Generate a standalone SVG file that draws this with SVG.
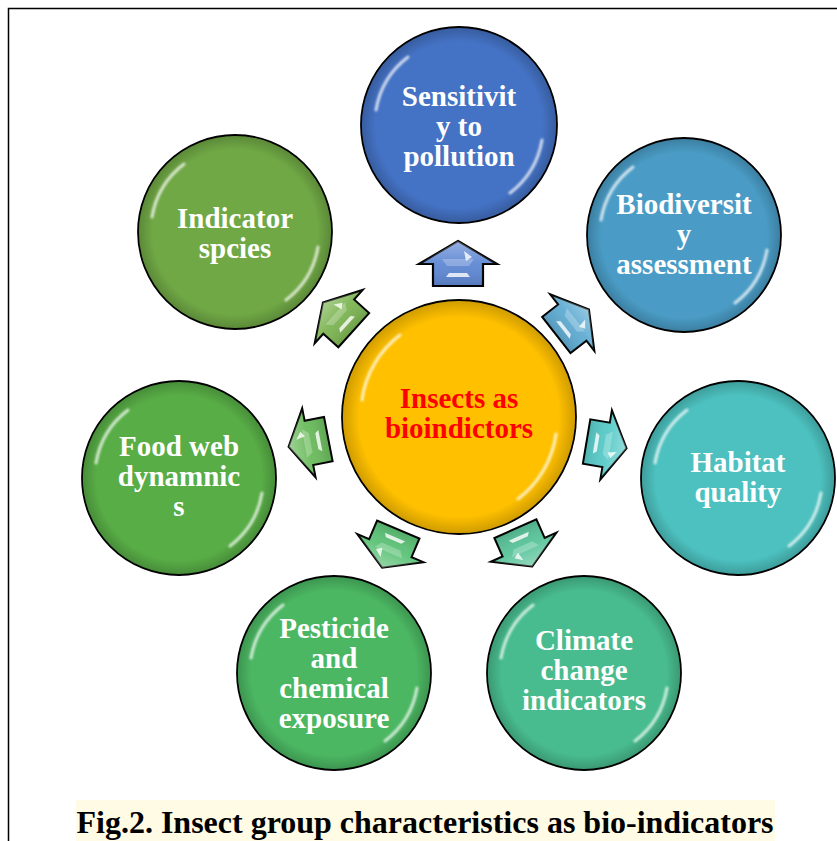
<svg xmlns="http://www.w3.org/2000/svg" width="837" height="841" viewBox="0 0 837 841">
<style>
.node{stroke:#000;stroke-width:1.8}
.lbl{font-family:"Liberation Serif","Times New Roman",serif;font-weight:bold;font-size:29px;fill:#fff;text-anchor:middle}
.ctr{fill:#ff0000}
.arw{stroke:#000;stroke-width:2.2;stroke-linejoin:miter}
.hl{fill:none;stroke:#fff;stroke-width:3;stroke-linecap:round;opacity:.75;filter:url(#blur)}
.glint{fill:#fff;opacity:.8}
.bevel{fill:#fff;opacity:.25}
</style>
<defs>
<filter id="blur" x="-20%" y="-20%" width="140%" height="140%"><feGaussianBlur stdDeviation="1.2"/></filter>
<radialGradient id="rim" cx="50%" cy="50%" r="50%">
<stop offset="0.86" stop-color="#000" stop-opacity="0"/>
<stop offset="1" stop-color="#000" stop-opacity="0.18"/>
</radialGradient>
<linearGradient id="ag" x1="0" y1="0" x2="0" y2="1">
<stop offset="0" stop-color="#fff" stop-opacity="0.35"/>
<stop offset="0.5" stop-color="#fff" stop-opacity="0.05"/>
<stop offset="1" stop-color="#000" stop-opacity="0.12"/>
</linearGradient>
<path id="arrow" d="M0,-22 L39,1 L25,1 L25,23 L-25,23 L-25,1 L-39,1 Z"/>
<g id="arrowFx">
<use href="#arrow" fill="url(#ag)"/>
<path class="bevel" d="M-16,-4 L16,-4 L11,3 L-11,3 Z"/>
<path class="glint" d="M6,-12 L14,-6 L8,-2 Z"/>
<path class="glint" d="M-12,14 L12,14 L9,10 L-9,10 Z"/>
</g>
</defs>
<rect width="837" height="841" fill="#fff"/>
<path d="M8.5,841 V8.5 H837" fill="none" stroke="#000" stroke-width="1.5"/>

<g id="connectors">
<g transform="translate(458,263)"><use href="#arrow" class="arw" fill="#5f88d4"/><use href="#arrowFx"/></g>
<g transform="translate(573,322) rotate(52) scale(0.92)"><use href="#arrow" class="arw" fill="#5fabd2"/><use href="#arrowFx"/></g>
<g transform="translate(607,445) rotate(99.5) scale(0.9)"><use href="#arrow" class="arw" fill="#58cbc8"/><use href="#arrowFx"/></g>
<g transform="translate(524,548) rotate(156) scale(0.92)"><use href="#arrow" class="arw" fill="#59c49a"/><use href="#arrowFx"/></g>
<g transform="translate(390,549) rotate(203) scale(0.92)"><use href="#arrow" class="arw" fill="#5cc276"/><use href="#arrowFx"/></g>
<g transform="translate(308,443) rotate(259) scale(0.9)"><use href="#arrow" class="arw" fill="#6abb5c"/><use href="#arrowFx"/></g>
<g transform="translate(338,316) rotate(-48) scale(0.92)"><use href="#arrow" class="arw" fill="#7db553"/><use href="#arrowFx"/></g>
</g>

<g id="center">
<circle cx="459" cy="417" r="117" class="node" fill="#ffc000"/>
<circle cx="459" cy="417" r="116" fill="url(#rim)"/>
<path class="hl" d="M362,400 A98,98 0 0 1 400,335"/>
<path class="hl" d="M556,434 A98,98 0 0 1 518,499"/>
<text class="lbl ctr" x="459" y="408">Insects as</text>
<text class="lbl ctr" x="459" y="438">bioindictors</text>
</g>

<g id="n-sensitivity">
<circle cx="459" cy="125" r="98" class="node" fill="#4472c4"/>
<circle cx="459" cy="125" r="97" fill="url(#rim)"/>
<path class="hl" d="M376,110 A84,84 0 0 1 408,57"/>
<path class="hl" d="M542,140 A84,84 0 0 1 510,193"/>
<text class="lbl" x="459" y="106">Sensitivit</text>
<text class="lbl" x="459" y="136">y to</text>
<text class="lbl" x="459" y="166">pollution</text>
</g>

<g id="n-biodiversity">
<circle cx="684" cy="235" r="97" class="node" fill="#4a9cc6"/>
<circle cx="684" cy="235" r="96" fill="url(#rim)"/>
<path class="hl" d="M601,220 A84,84 0 0 1 633,167"/>
<path class="hl" d="M767,250 A84,84 0 0 1 735,303"/>
<text class="lbl" x="684" y="214">Biodiversit</text>
<text class="lbl" x="684" y="244">y</text>
<text class="lbl" x="684" y="274">assessment</text>
</g>

<g id="n-habitat">
<circle cx="738" cy="478" r="97" class="node" fill="#4cc1bf"/>
<circle cx="738" cy="478" r="96" fill="url(#rim)"/>
<path class="hl" d="M655,463 A84,84 0 0 1 687,410"/>
<path class="hl" d="M821,493 A84,84 0 0 1 789,546"/>
<text class="lbl" x="738" y="472">Habitat</text>
<text class="lbl" x="738" y="502">quality</text>
</g>

<g id="n-climate">
<circle cx="584" cy="673" r="97" class="node" fill="#48bc8e"/>
<circle cx="584" cy="673" r="96" fill="url(#rim)"/>
<path class="hl" d="M501,658 A84,84 0 0 1 533,605"/>
<path class="hl" d="M667,688 A84,84 0 0 1 635,741"/>
<text class="lbl" x="584" y="650">Climate</text>
<text class="lbl" x="584" y="680">change</text>
<text class="lbl" x="584" y="710">indicators</text>
</g>

<g id="n-pesticide">
<circle cx="334" cy="673" r="97" class="node" fill="#4bb762"/>
<circle cx="334" cy="673" r="96" fill="url(#rim)"/>
<path class="hl" d="M251,658 A84,84 0 0 1 283,605"/>
<path class="hl" d="M417,688 A84,84 0 0 1 385,741"/>
<text class="lbl" x="334" y="638">Pesticide</text>
<text class="lbl" x="334" y="668">and</text>
<text class="lbl" x="334" y="698">chemical</text>
<text class="lbl" x="334" y="728">exposure</text>
</g>

<g id="n-foodweb">
<circle cx="179" cy="478" r="97" class="node" fill="#58ad46"/>
<circle cx="179" cy="478" r="96" fill="url(#rim)"/>
<path class="hl" d="M96,463 A84,84 0 0 1 128,410"/>
<path class="hl" d="M262,493 A84,84 0 0 1 230,546"/>
<text class="lbl" x="179" y="456">Food web</text>
<text class="lbl" x="179" y="486">dynamnic</text>
<text class="lbl" x="179" y="516">s</text>
</g>

<g id="n-indicator">
<circle cx="235" cy="232" r="97" class="node" fill="#70a845"/>
<circle cx="235" cy="232" r="96" fill="url(#rim)"/>
<path class="hl" d="M152,217 A84,84 0 0 1 184,164"/>
<path class="hl" d="M318,247 A84,84 0 0 1 286,300"/>
<text class="lbl" x="235" y="228">Indicator</text>
<text class="lbl" x="235" y="258">spcies</text>
</g>

<g id="caption">
<rect x="76" y="800" width="699" height="41" fill="#fffbe5"/>
<text x="425" y="833" font-family="'Liberation Serif','Times New Roman',serif" font-weight="bold" font-size="32" text-anchor="middle" fill="#000">Fig.2. Insect group characteristics as bio-indicators</text>
</g>
</svg>
